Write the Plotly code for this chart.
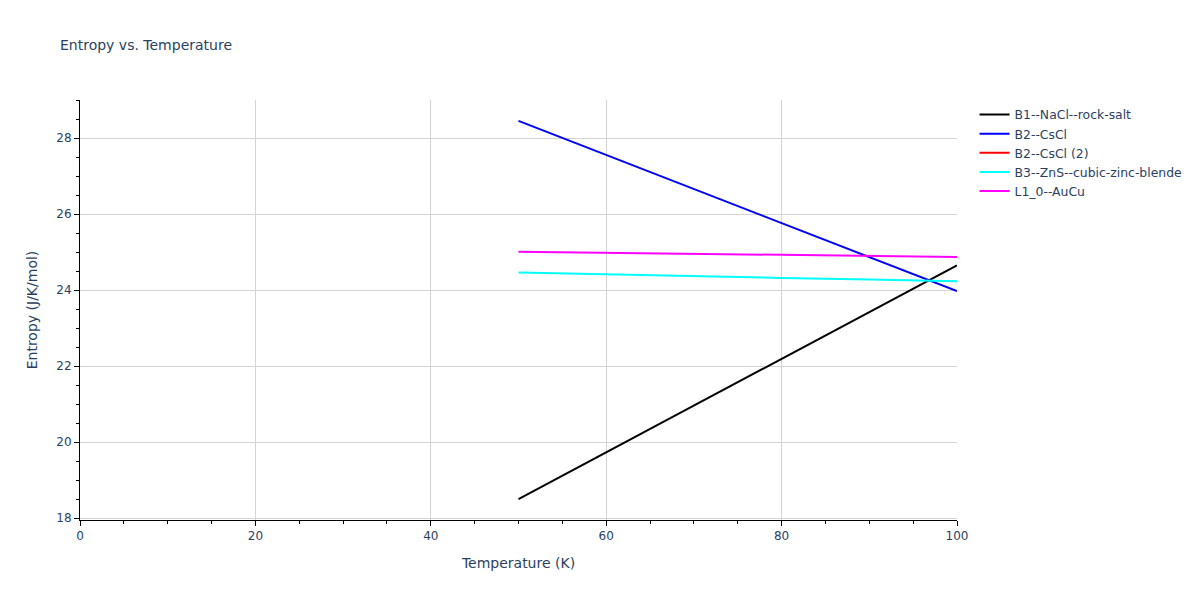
import plotly.graph_objects as go

# temperatures (K)
temps = [50, 60, 70, 80, 90, 100]

# entropy values (J/K/mol)
s_rocksalt = [18.50, 19.73, 20.96, 22.19, 23.42, 24.65]
s_cscl = [28.45, 27.55, 26.66, 25.76, 24.86, 23.97]
s_cscl_2 = [None, None, None, None, None, None]
s_zincblende = [24.46, 24.41, 24.37, 24.32, 24.28, 24.23]
s_aucu = [25.01, 24.98, 24.95, 24.93, 24.90, 24.87]

series = [
    ("B1--NaCl--rock-salt", s_rocksalt, "black"),
    ("B2--CsCl", s_cscl, "blue"),
    ("B2--CsCl (2)", s_cscl_2, "red"),
    ("B3--ZnS--cubic-zinc-blende", s_zincblende, "cyan"),
    ("L1_0--AuCu", s_aucu, "magenta"),
]

fig = go.Figure()

for name, y, color in series:
    fig.add_trace(
        go.Scatter(
            x=temps,
            y=y,
            mode="lines",
            name=name,
            showlegend=True,
            line=dict(color=color, width=2),
        )
    )

axis_style = dict(
    showline=True,
    linecolor="black",
    linewidth=1,
    showgrid=True,
    gridcolor="lightgray",
    ticks="outside",
    tickcolor="black",
    zeroline=False,
    title_font=dict(size=14),
)

fig.update_layout(
    title=dict(text="Entropy vs. Temperature", font=dict(size=14)),
    font=dict(family="Verdana, DejaVu Sans, sans-serif", size=12, color="#2a3f5f"),
    legend=dict(font=dict(size=12.4)),
    width=1200,
    height=600,
    plot_bgcolor="white",
    paper_bgcolor="white",
    xaxis=dict(
        title="Temperature (K)",
        range=[0, 100],
        dtick=20,
        minor=dict(ticks="outside", dtick=5, tickcolor="black", showgrid=False),
        **axis_style
    ),
    yaxis=dict(
        title="Entropy (J/K/mol)",
        range=[17.95, 29.0],
        dtick=2,
        minor=dict(ticks="outside", dtick=0.5, tickcolor="black", showgrid=False),
        **axis_style
    ),
)

fig.write_html(
    "out.html",
    config={"displayModeBar": False},
    post_script="document.body.style.margin = '0';"
)
